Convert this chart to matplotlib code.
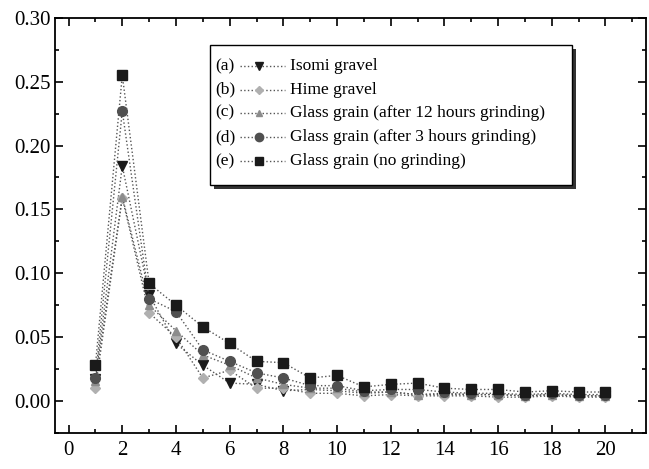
import matplotlib.pyplot as plt
from matplotlib.patches import Rectangle
from matplotlib.lines import Line2D
from matplotlib.ticker import MultipleLocator

# grain index 1..20
x = list(range(1, 21))

isomi = [0.017, 0.184, 0.083, 0.045, 0.028, 0.014, 0.013, 0.008, 0.009, 0.008,
         0.006, 0.007, 0.005, 0.005, 0.005, 0.005, 0.004, 0.005, 0.004, 0.004]
hime = [0.010, 0.159, 0.069, 0.050, 0.018, 0.024, 0.010, 0.010, 0.006, 0.006,
        0.004, 0.005, 0.004, 0.004, 0.004, 0.003, 0.003, 0.004, 0.003, 0.003]
glass_12h = [0.016, 0.160, 0.075, 0.055, 0.036, 0.028, 0.018, 0.013, 0.010, 0.010,
             0.007, 0.007, 0.005, 0.006, 0.005, 0.005, 0.004, 0.005, 0.004, 0.004]
glass_3h = [0.018, 0.227, 0.080, 0.070, 0.040, 0.031, 0.022, 0.018, 0.012, 0.012,
            0.008, 0.009, 0.009, 0.007, 0.006, 0.006, 0.005, 0.006, 0.005, 0.005]
glass_none = [0.028, 0.255, 0.092, 0.075, 0.058, 0.045, 0.031, 0.030, 0.018, 0.020,
              0.011, 0.013, 0.014, 0.010, 0.009, 0.009, 0.007, 0.008, 0.007, 0.007]

tags = ['(a)', '(b)', '(c)', '(d)', '(e)']
names = ['Isomi gravel', 'Hime gravel', 'Glass grain (after 12 hours grinding)',
         'Glass grain (after 3 hours grinding)', 'Glass grain (no grinding)']
series = [isomi, hime, glass_12h, glass_3h, glass_none]
markers = ['v', 'D', '^', 'o', 's']
colors = ['#1a1a1a', '#b0b0b0', '#8c8c8c', '#505050', '#1a1a1a']
sizes = [7, 5, 6, 7, 6.5]


def main():
    plt.rcParams['font.family'] = 'Liberation Serif'
    fig = plt.figure(figsize=(6.49, 4.69), dpi=100)
    ax = fig.add_axes([0.085, 0.077, 0.91, 0.885])

    for ys, m, c, s in zip(series, markers, colors, sizes):
        ax.plot(x, ys, linestyle=':', color='#555555', linewidth=1.0,
                marker=m, markersize=s, markerfacecolor=c, markeredgecolor=c)

    ax.set_xlim(-0.5, 21.5)
    ax.set_ylim(-0.025, 0.30)
    ax.xaxis.set_major_locator(MultipleLocator(2))
    ax.xaxis.set_minor_locator(MultipleLocator(1))
    ax.yaxis.set_major_locator(MultipleLocator(0.05))
    ax.yaxis.set_minor_locator(MultipleLocator(0.025))
    ax.yaxis.set_major_formatter(plt.FuncFormatter(lambda v, p: f'{v:.2f}'))
    ax.tick_params(which='both', direction='in', top=True, right=True,
                   labelsize=15, width=1.2)
    ax.tick_params(which='major', length=6)
    ax.tick_params(which='minor', length=3)
    ax.tick_params(axis='x', pad=6)
    for sp in ax.spines.values():
        sp.set_linewidth(1.3)

    # legend box drawn by hand: tag, line with marker, then name
    x0, x1, ytop, ybot = 0.262, 0.875, 0.935, 0.598
    ax.add_patch(Rectangle((x0 + 0.007, ybot - 0.010), x1 - x0, ytop - ybot,
                           transform=ax.transAxes, facecolor='#333333',
                           edgecolor='none', zorder=5))
    ax.add_patch(Rectangle((x0, ybot), x1 - x0, ytop - ybot,
                           transform=ax.transAxes, facecolor='white',
                           edgecolor='black', linewidth=1.0, zorder=6))
    rows = [0.884, 0.827, 0.771, 0.713, 0.655]
    for yy, t, n, m, c, s in zip(rows, tags, names, markers, colors, sizes):
        ax.text(0.271, yy, t, transform=ax.transAxes, fontsize=12.5,
                va='center', ha='left', zorder=7)
        ax.add_line(Line2D([0.313, 0.389], [yy, yy], transform=ax.transAxes,
                           linestyle=':', color='#555555', linewidth=1.0, zorder=7))
        ax.add_line(Line2D([0.345], [yy], transform=ax.transAxes,
                           marker=m, markersize=s - 1, markerfacecolor=c,
                           markeredgecolor=c, linestyle='none', zorder=8))
        ax.text(0.398, yy, n, transform=ax.transAxes, fontsize=12.5,
                va='center', ha='left', zorder=7)

    fig.savefig('out.png', dpi=100)


if __name__ == '__main__':
    main()
